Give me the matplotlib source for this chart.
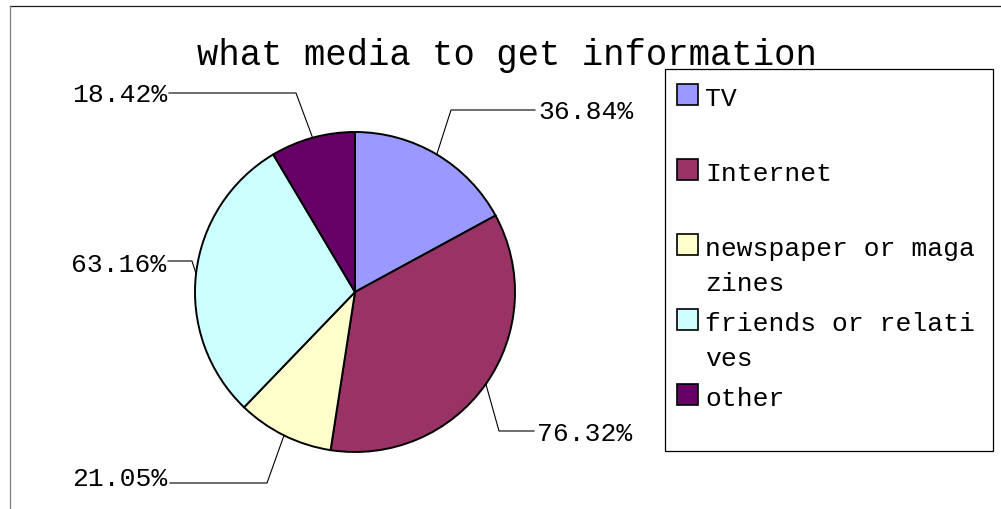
import matplotlib.pyplot as plt
import numpy as np
from matplotlib.patches import Rectangle

# survey answers: which media people use to get information
categories = ["TV", "Internet", "newspaper or magazines",
              "friends or relatives", "other"]
shares = [36.84, 76.32, 21.05, 63.16, 18.42]
colors = ["#9999FF", "#993366", "#FFFFCC", "#CCFFFF", "#660066"]

# label placement (pixel coords, y down): elbow of leader, end of leader, text anchor
elbows = [(451, 111), (499, 432), (267, 484), (192, 262), (296, 94)]
lead_end = [535, 534, 170, 168, 169]
text_pos = [(538, 119), (537, 441), (167, 486), (166, 272), (167, 102)]

font = "Liberation Mono"

fig = plt.figure(figsize=(10.01, 5.10), dpi=100)
ax = fig.add_axes([0, 0, 1, 1])

cx, cy, r = 355, 293, 160
wedges, _ = ax.pie(shares, colors=colors, startangle=-90, counterclock=True,
                   center=(cx, cy), radius=r,
                   wedgeprops=dict(edgecolor="black", linewidth=1.4))
ax.set_xlim(0, 1001)
ax.set_ylim(510, 0)
ax.set_aspect("equal")
ax.axis("off")

for i, w in enumerate(wedges):
    mid = np.deg2rad((w.theta1 + w.theta2) / 2)
    x0, y0 = cx + r * np.cos(mid), cy + r * np.sin(mid)
    ex, ey = elbows[i]
    ax.plot([x0, ex, lead_end[i]], [y0, ey, ey], color="black", lw=0.8,
            clip_on=False)
    tx, ty = text_pos[i]
    ha = "left" if tx > cx else "right"
    ax.text(tx, ty, f"{shares[i]:.2f}%", ha=ha, va="baseline",
            fontsize=19, family=font)

# title
ax.text(507, 65, "what media to get information", ha="center", va="baseline",
        fontsize=25.7, family=font)

# chart frame (runs off the right and bottom of the image)
ax.plot([9.5, 1001], [6.5, 6.5], color="#1a1a1a", lw=0.9, clip_on=False)
ax.plot([9.5, 9.5], [6.5, 510], color="#808080", lw=0.9, clip_on=False)

# legend box, entries wrap after 17 characters
ax.add_patch(Rectangle((665, 70), 328, 382, facecolor="white",
                       edgecolor="black", lw=0.9))
for i, name in enumerate(categories):
    base = 106 + 75 * i
    ax.add_patch(Rectangle((677, base - 21), 21, 21, facecolor=colors[i],
                           edgecolor="black", lw=1.2))
    lines = [name[:17], name[17:]] if len(name) > 17 else [name]
    for k, line in enumerate(lines):
        ax.text(705, base + 35 * k, line, ha="left", va="baseline",
                fontsize=19, family=font)

fig.savefig("out.png", dpi=100)
